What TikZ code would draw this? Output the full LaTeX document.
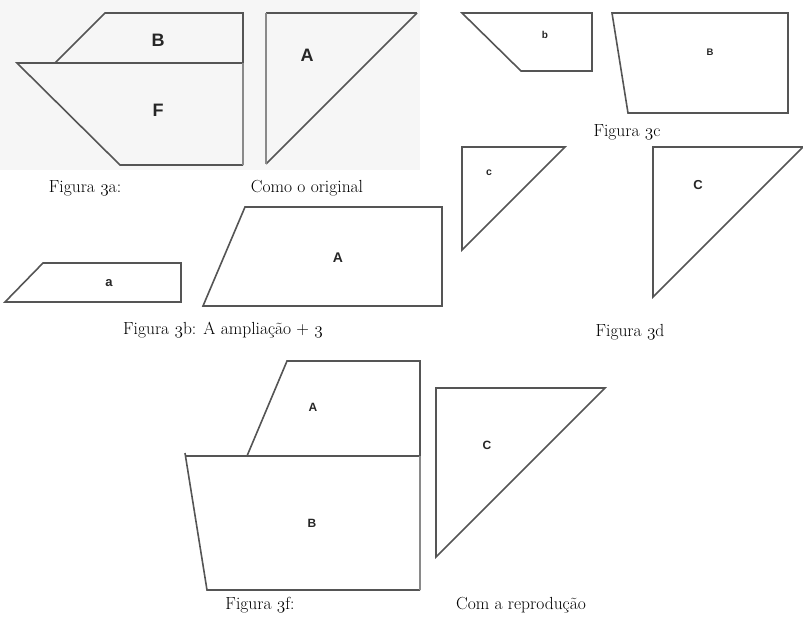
\documentclass[tikz,border=0pt]{standalone}
\usepackage{fontspec}
\newfontfamily\labfont{Liberation Sans}
\newcommand{\osn}[1]{{\usefont{OML}{cmm}{m}{it}#1}}
\definecolor{edge}{HTML}{555555}
\definecolor{edgelight}{HTML}{8A8A8A}
\definecolor{bgpanel}{HTML}{F6F6F6}
\tikzset{
  piece/.style={draw=edge, line width=1.6pt, line join=miter},
  lightedge/.style={draw=edgelight, line width=1.4pt},
  lab/.style={font=\labfont\bfseries, text=black!85, inner sep=0pt},
  captxt/.style={font=\fontsize{17.5}{20}\selectfont, text=black, inner sep=0pt}
}
\begin{document}
\begin{tikzpicture}[x=1pt,y=-1pt]
\useasboundingbox (0,0) rectangle (803,629);
\fill[bgpanel] (0,0) rectangle (420,170);

% ---- Figura 3a
\draw[piece] (55,63) -- (105,13) -- (243,13) -- (243,63) -- cycle;
\draw[piece] (243,63) -- (17,63) -- (120,165) -- (243,165);
\draw[lightedge] (243,63) -- (243,165);
\draw[piece] (417,13) -- (266,164);
\draw[piece] (266,13) -- (417,13);
\draw[lightedge] (266,13) -- (266,164);
\node[lab, font=\labfont\bfseries\fontsize{18}{20}\selectfont] (lB1) at (158,40) {B};
\node[lab, font=\labfont\bfseries\fontsize{18}{20}\selectfont] (lF1) at (158,110) {F};
\node[lab, font=\labfont\bfseries\fontsize{18}{20}\selectfont] (lA1) at (307,55) {A};
\node[captxt] (c3a) at (85,188) {Figura \osn{3}a:};
\node[captxt] (c3a2) at (307,188) {Como o original};

% ---- Figura 3c
\draw[piece] (462,13) -- (592,13) -- (592,71) -- (521,71) -- cycle;
\draw[piece] (612,13) -- (788,13) -- (788,113) -- (628,113) -- cycle;
\node[lab, font=\labfont\bfseries\fontsize{10}{12}\selectfont] (lb) at (545,35) {b};
\node[lab, font=\labfont\bfseries\fontsize{9.5}{11}\selectfont] (lB2) at (710,52) {B};
\node[captxt] (c3c) at (627,132) {Figura \osn{3}c};

% ---- Figura 3d
\draw[piece] (462,147) -- (565,147) -- (462,250) -- cycle;
\draw[piece] (653,147) -- (803,147) -- (653,297) -- cycle;
\node[lab, font=\labfont\bfseries\fontsize{10.5}{12}\selectfont] (lc) at (489,173) {c};
\node[lab, font=\labfont\bfseries\fontsize{13}{15}\selectfont] (lC1) at (698,185) {C};
\node[captxt] (c3d) at (630,332) {Figura \osn{3}d};

% ---- Figura 3b
\draw[piece] (43,263) -- (181,263) -- (181,302) -- (5,302) -- cycle;
\draw[piece] (245,207) -- (442,207) -- (442,306) -- (203,306) -- cycle;
\node[lab, font=\labfont\bfseries\fontsize{13}{15}\selectfont] (la) at (109,283) {a};
\node[lab, font=\labfont\bfseries\fontsize{14}{16}\selectfont] (lA2) at (338,258) {A};
\node[captxt] (c3b) at (223,330) {Figura \osn{3}b: A ampliação + \osn{3}};

% ---- Figura 3f
\draw[piece] (247,456) -- (287,361) -- (420,361) -- (420,456);
\draw[piece] (420,456) -- (185,456);
\draw[piece] (185,453) -- (207,590) -- (420,590);
\draw[lightedge] (420,456) -- (420,590);
\draw[piece] (436,388) -- (605,388) -- (436,557) -- cycle;
\node[lab, font=\labfont\bfseries\fontsize{12}{14}\selectfont] (lA3) at (313,407) {A};
\node[lab, font=\labfont\bfseries\fontsize{12}{14}\selectfont] (lB3) at (312,523) {B};
\node[lab, font=\labfont\bfseries\fontsize{12}{14}\selectfont] (lC2) at (487,445) {C};
\node[captxt] (c3f) at (260,605) {Figura \osn{3}f:};
\node[captxt] (c3f2) at (521,605) {Com a reprodução};
\end{tikzpicture}
\end{document}
